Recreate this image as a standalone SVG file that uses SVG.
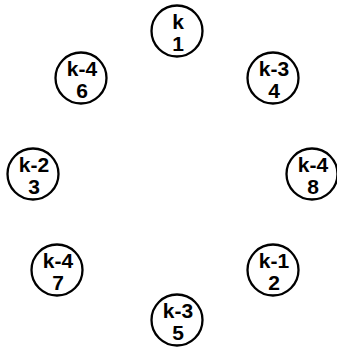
<svg xmlns="http://www.w3.org/2000/svg" width="337" height="354" viewBox="0 0 337 354">
<style>
.n circle{fill:#fff;stroke:#000;stroke-width:2.3}
.n text{font-family:"Liberation Sans",Arial,sans-serif;font-weight:bold;font-size:21px;text-anchor:middle;fill:#000}
</style>
<rect width="337" height="354" fill="#fff"/>
<g id="connectors"/>
<g id="n1" class="n"><circle cx="177" cy="31" r="25.5"/><text x="178" y="29">k</text><text x="178" y="51">1</text></g>
<g id="n4" class="n"><circle cx="273" cy="78" r="25.5"/><text x="274" y="76">k-3</text><text x="274" y="98">4</text></g>
<g id="n8" class="n"><circle cx="312" cy="174" r="25.5"/><text x="313" y="172">k-4</text><text x="313" y="194">8</text></g>
<g id="n2" class="n"><circle cx="273" cy="270" r="25.5"/><text x="274" y="268">k-1</text><text x="274" y="290">2</text></g>
<g id="n5" class="n"><circle cx="177" cy="320" r="25.5"/><text x="178" y="318">k-3</text><text x="178" y="340">5</text></g>
<g id="n7" class="n"><circle cx="57" cy="270" r="25.5"/><text x="58" y="268">k-4</text><text x="58" y="290">7</text></g>
<g id="n3" class="n"><circle cx="33" cy="174" r="25.5"/><text x="34" y="172">k-2</text><text x="34" y="194">3</text></g>
<g id="n6" class="n"><circle cx="81" cy="78" r="25.5"/><text x="82" y="76">k-4</text><text x="82" y="98">6</text></g>
</svg>
